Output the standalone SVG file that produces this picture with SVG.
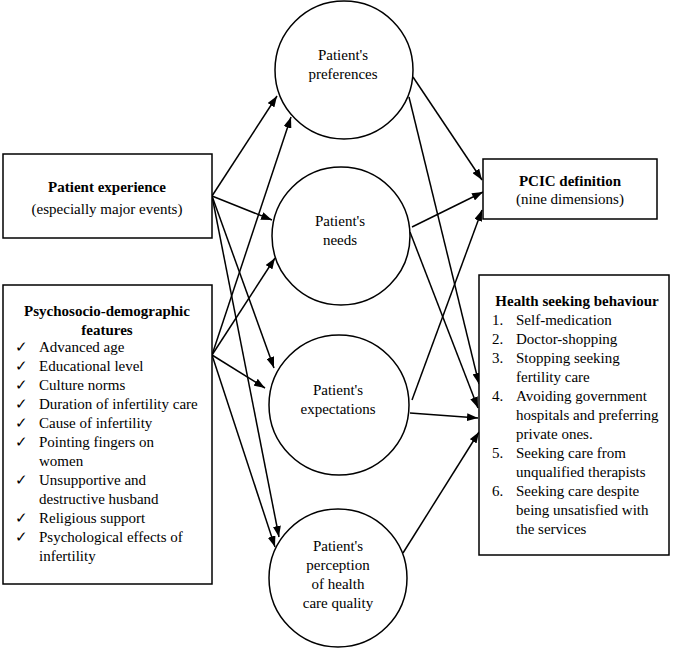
<svg xmlns="http://www.w3.org/2000/svg" width="674" height="650" viewBox="0 0 674 650">
<defs>
<marker id="ah" markerUnits="userSpaceOnUse" markerWidth="11" markerHeight="8" refX="11" refY="4" orient="auto">
<path d="M0,0 L11,4 L0,8 z" fill="#000"/>
</marker>
<style>
.box{fill:#fff;stroke:#000;stroke-width:1.5}
.node circle{fill:#fff;stroke:#000;stroke-width:1.5}
text{font-family:"Liberation Serif","Times New Roman",serif;font-size:15px;fill:#000}
.b{font-weight:bold}
.c{text-anchor:middle}
#connectors line{stroke:#000;stroke-width:1.5;marker-end:url(#ah)}
</style>
</defs>
<rect width="674" height="650" fill="#fff"/>
<g id="connectors">
<line x1="212" y1="196" x2="277" y2="96"/>
<line x1="212" y1="196" x2="272" y2="220"/>
<line x1="212" y1="196" x2="274" y2="368"/>
<line x1="212" y1="196" x2="279" y2="537"/>
<line x1="212" y1="355" x2="291" y2="117"/>
<line x1="212" y1="355" x2="275" y2="258"/>
<line x1="212" y1="355" x2="265" y2="388"/>
<line x1="212" y1="355" x2="275" y2="547"/>
<line x1="413" y1="77" x2="482" y2="180"/>
<line x1="409" y1="97" x2="479" y2="384"/>
<line x1="412" y1="227" x2="483" y2="192"/>
<line x1="410" y1="232" x2="478" y2="408"/>
<line x1="412" y1="400" x2="482" y2="210"/>
<line x1="410" y1="413" x2="478" y2="418"/>
<line x1="403" y1="553" x2="479" y2="432"/>
</g>
<g id="patient-experience">
<rect class="box" x="3" y="154" width="209" height="84"/>
<text class="b c" x="107" y="192">Patient experience</text>
<text class="c" x="107" y="214">(especially major events)</text>
</g>
<g id="psychosocio">
<rect class="box" x="3" y="285" width="209" height="299"/>
<text class="b c" x="107" y="316">Psychosocio-demographic</text>
<text class="b c" x="107" y="335">features</text>
<g>
<text x="15" y="352">✓</text><text x="39" y="352">Advanced age</text>
<text x="15" y="371">✓</text><text x="39" y="371">Educational level</text>
<text x="15" y="390">✓</text><text x="39" y="390">Culture norms</text>
<text x="15" y="409">✓</text><text x="39" y="409">Duration of infertility care</text>
<text x="15" y="428">✓</text><text x="39" y="428">Cause of infertility</text>
<text x="15" y="447">✓</text><text x="39" y="447">Pointing fingers on</text>
<text x="39" y="466">women</text>
<text x="15" y="485">✓</text><text x="39" y="485">Unsupportive and</text>
<text x="39" y="504">destructive husband</text>
<text x="15" y="523">✓</text><text x="39" y="523">Religious support</text>
<text x="15" y="542">✓</text><text x="39" y="542">Psychological effects of</text>
<text x="39" y="561">infertility</text>
</g>
</g>
<g id="preferences" class="node">
<circle cx="344" cy="70" r="69"/>
<text class="c" x="343" y="60">Patient's</text>
<text class="c" x="343" y="79">preferences</text>
</g>
<g id="needs" class="node">
<circle cx="341" cy="236" r="69"/>
<text class="c" x="340" y="226">Patient's</text>
<text class="c" x="340" y="245">needs</text>
</g>
<g id="expectations" class="node">
<circle cx="339" cy="405" r="70"/>
<text class="c" x="338" y="395">Patient's</text>
<text class="c" x="338" y="414">expectations</text>
</g>
<g id="perception" class="node">
<circle cx="338" cy="578" r="69"/>
<text class="c" x="338" y="551">Patient's</text>
<text class="c" x="338" y="570">perception</text>
<text class="c" x="338" y="589">of health</text>
<text class="c" x="338" y="608">care quality</text>
</g>
<g id="pcic">
<rect class="box" x="483" y="159" width="174" height="60"/>
<text class="b c" x="570" y="186">PCIC definition</text>
<text class="c" x="570" y="204">(nine dimensions)</text>
</g>
<g id="health-seeking">
<rect class="box" x="479" y="275" width="190" height="280"/>
<text class="b c" x="577" y="306">Health seeking behaviour</text>
<text x="492" y="325">1.</text><text x="516" y="325">Self-medication</text>
<text x="492" y="344">2.</text><text x="516" y="344">Doctor-shopping</text>
<text x="492" y="363">3.</text><text x="516" y="363">Stopping seeking</text>
<text x="516" y="382">fertility care</text>
<text x="492" y="401">4.</text><text x="516" y="401">Avoiding government</text>
<text x="516" y="420">hospitals and preferring</text>
<text x="516" y="439">private ones.</text>
<text x="492" y="458">5.</text><text x="516" y="458">Seeking care from</text>
<text x="516" y="477">unqualified therapists</text>
<text x="492" y="496">6.</text><text x="516" y="496">Seeking care despite</text>
<text x="516" y="515">being unsatisfied with</text>
<text x="516" y="534">the services</text>
</g>
</svg>
